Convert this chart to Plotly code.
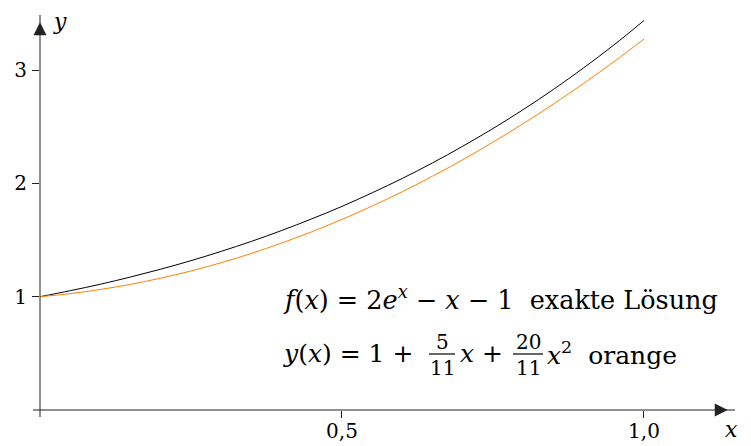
import plotly.graph_objects as go

# sample points
x_vals = [0.00, 0.05, 0.10, 0.15, 0.20, 0.25, 0.30, 0.35, 0.40, 0.45, 0.50,
          0.55, 0.60, 0.65, 0.70, 0.75, 0.80, 0.85, 0.90, 0.95, 1.00]
exact_vals = [1.000, 1.053, 1.110, 1.174, 1.243, 1.318, 1.400, 1.488, 1.584, 1.687, 1.797,
              1.917, 2.044, 2.181, 2.328, 2.484, 2.651, 2.829, 3.019, 3.221, 3.437]
orange_vals = [1.000, 1.027, 1.064, 1.109, 1.164, 1.227, 1.300, 1.382, 1.473, 1.573, 1.682,
               1.800, 1.927, 2.064, 2.209, 2.364, 2.527, 2.700, 2.882, 3.073, 3.273]

x_ticks = [0.5, 1.0]
x_tick_labels = ["0,5", "1,0"]
y_ticks = [1, 2, 3]
y_tick_labels = ["1", "2", "3"]

X_MAX = 1.1507
Y_MAX = 3.486
W, H = 751, 446
ML, MR, MT, MB = 40, 16, 15, 36
FONT = "DejaVu Serif"
AXIS_COLOR = "#222"


def px(x_pixel):
    # pixel column -> paper x
    return (x_pixel - ML) / (W - ML - MR)


def py(y_pixel):
    # pixel row -> paper y
    return (H - MB - y_pixel) / (H - MT - MB)


def label(x_pixel, y_pixel, text, size, anchor="center"):
    fig.add_annotation(x=px(x_pixel), y=py(y_pixel), xref="paper", yref="paper",
                       xanchor=anchor, yanchor="middle", text=text, showarrow=False,
                       font=dict(family=FONT, size=size, color="black"))


fig = go.Figure()

fig.add_trace(go.Scatter(x=x_vals, y=exact_vals, mode="lines",
                         line=dict(color="black", width=1, shape="spline")))
fig.add_trace(go.Scatter(x=x_vals, y=orange_vals, mode="lines",
                         line=dict(color="#ff8000", width=1, shape="spline")))

# axis lines and the little ticks at the origin
fig.add_shape(type="line", xref="paper", yref="paper", x0=0, x1=1, y0=0, y1=0,
              line=dict(color=AXIS_COLOR, width=1))
fig.add_shape(type="line", xref="paper", yref="paper", x0=0, x1=0, y0=0, y1=1,
              line=dict(color=AXIS_COLOR, width=1))
fig.add_shape(type="line", xref="paper", yref="paper", x0=px(33), x1=0, y0=0, y1=0,
              line=dict(color=AXIS_COLOR, width=1))
fig.add_shape(type="line", xref="paper", yref="paper", x0=0, x1=0, y0=py(417), y1=0,
              line=dict(color=AXIS_COLOR, width=1))

# arrow heads
fig.add_trace(go.Scatter(x=[X_MAX - 0.012], y=[0], mode="markers", cliponaxis=False,
                         marker=dict(symbol="arrow-right", size=13, color=AXIS_COLOR)))
fig.add_trace(go.Scatter(x=[0], y=[Y_MAX - 0.065], mode="markers", cliponaxis=False,
                         marker=dict(symbol="arrow-up", size=13, color=AXIS_COLOR)))

# axis names
label(60, 22, "<i>y</i>", 22)
label(731, 429, "<i>x</i>", 22)

# first legend line
label(281, 298, "<i>f</i>(<i>x</i>) = 2<i>e</i><sup><i>x</i></sup> − <i>x</i> − 1&nbsp;&nbsp;exakte Lösung",
      25.5, "left")

# second legend line, pieces around the stacked fractions
label(281, 353, "<i>y</i>(<i>x</i>) = 1 +", 25, "left")
label(458, 353, "<i>x</i> +", 25, "left")
label(545, 353, "<i>x</i><sup>2</sup>&nbsp;&nbsp;orange", 25, "left")

for cx, num, den, half in [(442, "5", "11", 13), (528, "20", "11", 15)]:
    label(cx, 342, num, 20)
    label(cx, 368, den, 20)
    fig.add_shape(type="line", xref="paper", yref="paper",
                  x0=px(cx - half), x1=px(cx + half), y0=py(354), y1=py(354),
                  line=dict(color="black", width=1.2))

fig.update_layout(
    width=W, height=H,
    margin=dict(l=ML, r=MR, t=MT, b=MB, autoexpand=False),
    plot_bgcolor="white", paper_bgcolor="white",
    showlegend=False,
    font=dict(family=FONT, size=20, color="black"),
)
fig.update_xaxes(range=[0, X_MAX], showgrid=False, zeroline=False, showline=False,
                 automargin=False,
                 tickvals=x_ticks, ticktext=x_tick_labels, ticks="outside",
                 ticklen=7, tickwidth=1, tickcolor=AXIS_COLOR, ticklabelstandoff=-4)
fig.update_yaxes(range=[0, Y_MAX], showgrid=False, zeroline=False, showline=False,
                 automargin=False,
                 tickvals=y_ticks, ticktext=y_tick_labels, ticks="outside",
                 ticklen=7, tickwidth=1, tickcolor=AXIS_COLOR, ticklabelstandoff=1)

fig.write_html("out.html", config={"displayModeBar": False},
               post_script="document.body.style.margin = '0';")
